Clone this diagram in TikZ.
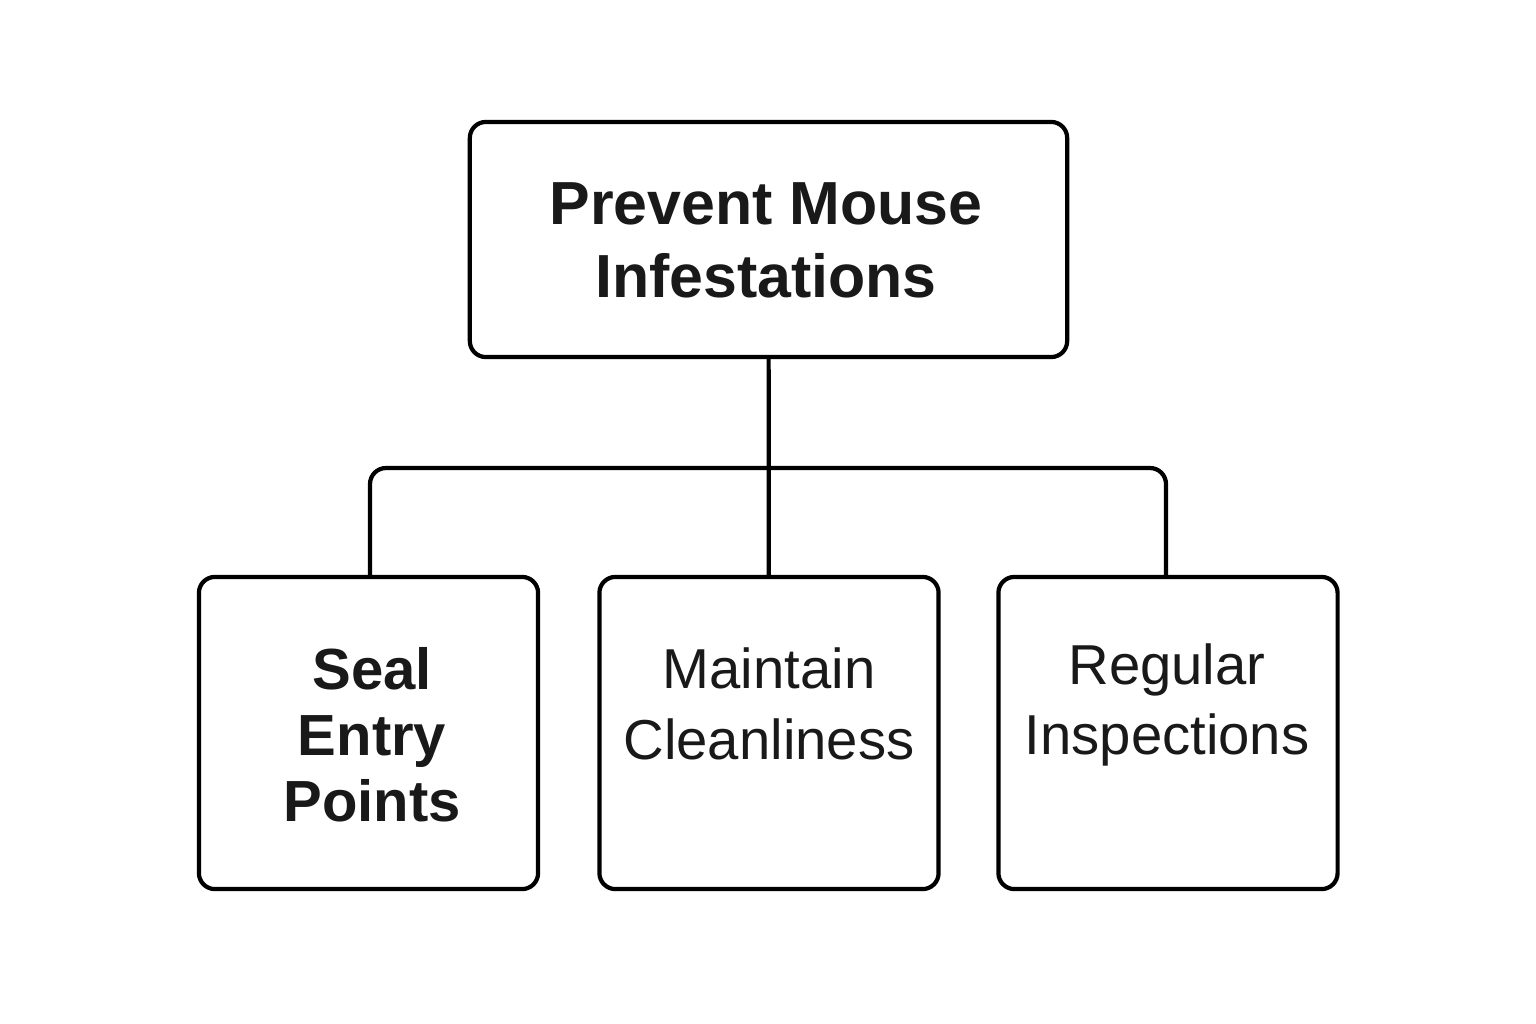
\documentclass[tikz,border=0pt]{standalone}
\usepackage{fontspec}
\setmainfont{Liberation Sans}
\begin{document}
\begin{tikzpicture}[
        x=0.01cm, y=-0.01cm,
        box/.style={draw, line width=1.2pt, rounded corners=0.16cm, inner sep=0pt},
        topbox/.style={box, minimum width=5.97cm, minimum height=2.35cm},
        subbox/.style={box, minimum width=3.39cm, minimum height=3.12cm},
        label/.style={align=center, inner sep=0pt, text=black!90},
        link/.style={line width=1.2pt, rounded corners=0.16cm},
    ]
        \useasboundingbox (0, 0) rectangle (1536, 1024);

        \node[topbox] (goal) at (768.5, 239.5) {};
        \node[subbox] (seal) at (368.5, 733) {};
        \node[subbox] (clean) at (769, 733) {};
        \node[subbox] (inspect) at (1168, 733) {};

        \node[label, font=\fontsize{17.3}{20.8}\selectfont\bfseries] (goaltext) at (766, 240) {Prevent Mouse\\Infestations};
        \node[label, font=\fontsize{16.5}{18.8}\selectfont\bfseries] (sealtext) at (372, 735) {Seal\\Entry\\Points};
        \node[label, font=\fontsize{16}{20}\selectfont] (cleantext) at (769, 704) {Maintain\\Cleanliness};
        \node[label, font=\fontsize{16}{20}\selectfont] (inspecttext) at (1167, 705) {Regular\\Inspections};

        \coordinate (split) at (768, 468);
        \draw[link] (goal) -- (clean);
        \draw[link] (seal.north -| 370, 0) |- (split) -| (inspect.north -| 1166, 0);
    \end{tikzpicture}
\end{document}
